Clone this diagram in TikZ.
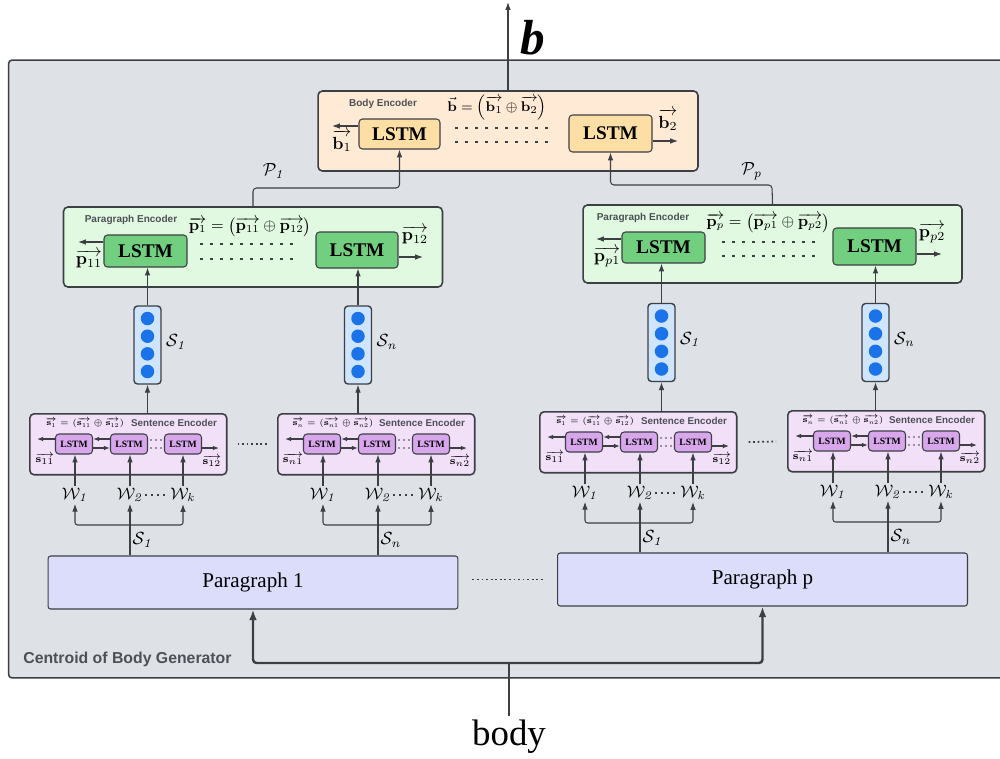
\RequirePackage{fix-cm}
\documentclass[tikz,border=0pt]{standalone}
\usepackage{amsmath,amssymb}
\usepackage[no-math]{fontspec}
\setmainfont{Liberation Serif}
\setsansfont{Liberation Sans}
\usetikzlibrary{arrows.meta}

\definecolor{bgcol}{HTML}{DEE1E6}
\definecolor{edgecol}{HTML}{3C4045}
\definecolor{titlecol}{HTML}{4D5157}
\definecolor{bodyfill}{HTML}{FFEAD6}
\definecolor{bodylstm}{HTML}{FDDFA5}
\definecolor{parafill}{HTML}{E1F8E1}
\definecolor{paralstm}{HTML}{72CF7F}
\definecolor{sentfill}{HTML}{F1E0F8}
\definecolor{sentlstm}{HTML}{D7A6EB}
\definecolor{vecfill}{HTML}{CEE5FD}
\definecolor{vecdot}{HTML}{1A73E8}
\definecolor{docfill}{HTML}{DCDDFB}

\tikzset{
    outerbox/.style={draw=edgecol,line width=0.9pt,fill=bgcol,rounded corners=2pt,inner sep=0pt},
    encbox/.style={draw=edgecol,line width=0.9pt,rounded corners=2.5pt,inner sep=0pt},
    lstmbox/.style={draw=edgecol,line width=0.6pt,rounded corners=2pt,inner sep=0pt,font=\fontsize{11}{12}\selectfont\bfseries},
    slstmbox/.style={lstmbox,fill=sentlstm,minimum width=0.74cm,minimum height=0.4cm,font=\fontsize{5.5}{6}\selectfont\bfseries},
    vecbox/.style={draw=edgecol,line width=0.8pt,fill=vecfill,rounded corners=2pt,minimum width=0.54cm,minimum height=1.56cm,inner sep=0pt},
    docbox/.style={draw=edgecol,line width=0.6pt,fill=docfill,rounded corners=1.5pt,minimum width=8.2cm,minimum height=1.06cm,font=\fontsize{12}{14}\selectfont},
    title/.style={font=\sffamily\bfseries\fontsize{5.7}{6}\selectfont,text=titlecol,inner sep=0pt},
    form/.style={inner sep=0pt},
    vlab/.style={font=\fontsize{10}{11}\selectfont,inner sep=0pt},
    svlab/.style={font=\fontsize{6}{7}\selectfont,inner sep=0pt},
    wlab/.style={font=\fontsize{9.5}{10}\selectfont,inner sep=1pt},
    slab/.style={font=\fontsize{10}{11}\selectfont,inner sep=0pt},
    arr/.style={draw=edgecol,line width=0.6pt,-{Latex[length=4.5pt,width=3.2pt]}},
    sarr/.style={draw=edgecol,line width=0.6pt,-{Latex[length=3.5pt,width=2.6pt]}},
    twoarr/.style={draw=edgecol,line width=0.6pt,{Latex[length=4.5pt,width=3.2pt]}-{Latex[length=4.5pt,width=3.2pt]}},
    bigarr/.style={draw=edgecol,line width=1.4pt,-{Latex[length=6pt,width=4.4pt]}},
    dotrow/.style={draw=edgecol,line width=0.8pt,dash pattern=on 1.5pt off 4.2pt},
    gapdots/.style={draw=edgecol,line width=1pt,dash pattern=on 1pt off 1.6pt},
    wdots/.style={draw=edgecol,line width=0.9pt,dash pattern=on 0.8pt off 2.6pt}
}

\begin{document}
\begin{tikzpicture}[x=0.02cm,y=-0.02cm]
\useasboundingbox (0,0) rectangle (1000,758);

% frame of the generator
\node[outerbox,minimum width=19.9cm,minimum height=12.36cm] (cbg) at (506,369) {};
\node[title,font=\sffamily\bfseries\fontsize{9}{10}\selectfont,anchor=west] (cbgtitle) at (23,659) {Centroid of Body Generator};

% body encoder
\node[encbox,fill=bodyfill,minimum width=7.6cm,minimum height=1.6cm] (be) at (508,131) {};
\node[title] (betitle) at (383,104) {Body Encoder};
\node[lstmbox,fill=bodylstm,minimum width=1.62cm,minimum height=0.6cm] (ba) at (399.5,134) {LSTM};
\node[lstmbox,fill=bodylstm,minimum width=1.66cm,minimum height=0.74cm] (bb) at (610.5,133.5) {LSTM};
\node[form,font=\fontsize{8}{9}\selectfont] (beform) at (497,108) {$\vec{\mathbf{b}} = \left(\overrightarrow{\mathbf{b}_1} \oplus \overrightarrow{\mathbf{b}_2}\right)$};
\draw[dotrow] (455,128) -- (552,128);
\draw[dotrow] (455,142) -- (552,142);
\coordinate (b1end) at (332,126);
\coordinate (b2end) at (678,141);
\draw[arr] (ba.west |- b1end) -- (b1end);
\draw[arr] (bb.east |- b2end) -- (b2end);
\node[vlab] (b1lab) at (342,141) {$\overrightarrow{\mathbf{b}_1}$};
\node[vlab] (b2lab) at (668,120) {$\overrightarrow{\mathbf{b}_2}$};
\coordinate (bout) at (508,2);
\draw[arr] (be.north) -- (bout);
\node[font=\fontsize{28}{30}\selectfont\bfseries\itshape,inner sep=0pt] (blab) at (533,38) {b};

% paragraph encoders
\node[encbox,fill=parafill,minimum width=7.58cm,minimum height=1.6cm] (pl) at (253,247) {};
\node[title] (pltitle) at (131,220) {Paragraph Encoder};
\node[lstmbox,fill=paralstm,minimum width=1.66cm,minimum height=0.64cm] (pla) at (145.5,251) {LSTM};
\node[lstmbox,fill=paralstm,minimum width=1.64cm,minimum height=0.72cm] (plb) at (357,250) {LSTM};
\node[form,font=\fontsize{9}{10}\selectfont] (plform) at (250,227) {$\overrightarrow{\mathbf{p}_1} = \left(\overrightarrow{\mathbf{p}_{11}} \oplus \overrightarrow{\mathbf{p}_{12}}\right)$};
\draw[dotrow] (200,244) -- (298,244);
\draw[dotrow] (200,259) -- (298,259);
\coordinate (p11end) at (78,242);
\coordinate (p12end) at (423,257);
\draw[arr] (pla.west |- p11end) -- (p11end);
\draw[arr] (plb.east |- p12end) -- (p12end);
\node[vlab] (p11lab) at (89,259) {$\overrightarrow{\mathbf{p}_{11}}$};
\node[vlab] (p12lab) at (415,235) {$\overrightarrow{\mathbf{p}_{12}}$};

\node[encbox,fill=parafill,minimum width=7.58cm,minimum height=1.56cm] (pr) at (772.5,244) {};
\node[title] (prtitle) at (643,218) {Paragraph Encoder};
\node[lstmbox,fill=paralstm,minimum width=1.66cm,minimum height=0.62cm] (pra) at (663.5,247.5) {LSTM};
\node[lstmbox,fill=paralstm,minimum width=1.66cm,minimum height=0.74cm] (prb) at (874.5,246.5) {LSTM};
\node[form,font=\fontsize{9}{10}\selectfont] (prform) at (768,223) {$\overrightarrow{\mathbf{p}_p} = \left(\overrightarrow{\mathbf{p}_{p1}} \oplus \overrightarrow{\mathbf{p}_{p2}}\right)$};
\draw[dotrow] (722,242) -- (818,242);
\draw[dotrow] (722,256) -- (818,256);
\coordinate (pp1end) at (596,239);
\coordinate (pp2end) at (942,254);
\draw[arr] (pra.west |- pp1end) -- (pp1end);
\draw[arr] (prb.east |- pp2end) -- (pp2end);
\node[vlab] (pp1lab) at (607,257) {$\overrightarrow{\mathbf{p}_{p1}}$};
\node[vlab] (pp2lab) at (932,233) {$\overrightarrow{\mathbf{p}_{p2}}$};

% paragraphs to body encoder
\coordinate (plj) at (253,188);
\coordinate (prj) at (772,185);
\draw[arr,rounded corners=2pt] (pl.north) -- (plj) -| (ba.south);
\draw[arr,rounded corners=2pt] (pr.north) -- (prj) -| (bb.south);
\node[slab] (plab1) at (274,171) {$\mathcal{P}_{\mathit{1}}$};
\node[slab] (plabp) at (752,171) {$\mathcal{P}_{\mathit{p}}$};

% paragraphs
\node[docbox] (pg1) at (253,582.5) {Paragraph 1};
\node[docbox] (pgp) at (762.5,579.5) {Paragraph p};
\draw[gapdots,shorten <=0.28cm,shorten >=0.26cm] (pgp.west -| pg1.east) -- (pgp.west);

% sentence encoders
\foreach \n/\lx/\ty/\sid/\pg in {1/29/413/1/pg1, 2/277/413/n/pg1, 3/539/411/1/pgp, 4/787/410/n/pgp}{
    \node[encbox,fill=sentfill,minimum width=3.94cm,minimum height=1.22cm,anchor=north west] (se\n) at (\lx,\ty) {};
    \node[title,font=\sffamily\bfseries\fontsize{5.6}{6}\selectfont] (se\n t) at (\lx+145,\ty+10) {Sentence Encoder};
    \node[form,font=\fontsize{4.8}{6}\selectfont] (se\n f) at (\lx+56,\ty+10) {$\overrightarrow{\mathbf{s}_{\sid}} = (\overrightarrow{\mathbf{s}_{\sid 1}} \oplus \overrightarrow{\mathbf{s}_{\sid 2}})$};
    \node[slstmbox] (se\n a) at (\lx+45,\ty+31) {LSTM};
    \node[slstmbox] (se\n b) at (\lx+100,\ty+31) {LSTM};
    \node[slstmbox] (se\n c) at (\lx+154,\ty+31) {LSTM};
    \coordinate (se\n l) at (\lx+8,\ty+26);
    \coordinate (se\n r) at (\lx+190,\ty+35);
    \draw[sarr] (se\n a.west |- se\n l) -- (se\n l);
    \draw[sarr] (se\n b.west |- se\n l) -- (se\n a.east |- se\n l);
    \draw[sarr] (se\n a.east |- se\n r) -- (se\n b.west |- se\n r);
    \draw[sarr] (se\n c.east |- se\n r) -- (se\n r);
    \foreach \dx in {122,127,132}{
        \fill[edgecol] (\lx+\dx,\ty+27) circle (0.45pt);
        \fill[edgecol] (\lx+\dx,\ty+35) circle (0.45pt);
    }
    \node[svlab] (se\n sl) at (\lx+16,\ty+46) {$\overrightarrow{\mathbf{s}_{\sid 1}}$};
    \node[svlab] (se\n sr) at (\lx+183,\ty+48) {$\overrightarrow{\mathbf{s}_{\sid 2}}$};
    % words
    \node[wlab] (se\n wa) at (\lx+46,\ty+82) {$\mathcal{W}_{\mathit{1}}$};
    \node[wlab] (se\n wb) at (\lx+101,\ty+82) {$\mathcal{W}_{\mathit{2}}$};
    \node[wlab] (se\n wc) at (\lx+154,\ty+82) {$\mathcal{W}_{\mathit{k}}$};
    \draw[arr] (se\n wa.north) -- (se\n wa.north |- se\n a.south);
    \draw[arr] (se\n wb.north) -- (se\n wb.north |- se\n b.south);
    \draw[arr] (se\n wc.north) -- (se\n wc.north |- se\n c.south);
    \draw[wdots] (se\n wb.east) -- (se\n wc.west);
    \coordinate (se\n j) at (\lx+101,\ty+112);
    \draw[twoarr,rounded corners=1.5pt] (se\n wa.south) |- (se\n j) -| (se\n wc.south);
    \draw[arr] (\pg.north -| se\n wb) -- (se\n wb.south);
    \node[slab] (se\n s) at (\lx+114,\ty+127) {$\mathcal{S}_{\mathit{\sid}}$};
}
\draw[gapdots,shorten <=0.2cm,shorten >=0.2cm] (se1.east) -- (se2.west);
\draw[gapdots,shorten <=0.22cm,shorten >=0.22cm] (se3.east) -- (se4.west);

% sentence vectors
\foreach \n/\cx/\cy/\sid in {1/147.5/345/1, 2/358/345/n, 3/661.5/342.5/1, 4/875.5/342.5/n}{
    \node[vecbox] (col\n) at (\cx,\cy) {};
    \foreach \dy in {-26.5,-8.8,8.8,26.5}
        \fill[vecdot] (\cx,\cy+\dy) circle (0.135cm);
    \node[slab] (col\n lab) at (\cx+29,\cy-3) {$\mathcal{S}_{\mathit{\sid}}$};
    \draw[arr] (col\n.south |- se\n.north) -- (col\n.south);
}
\foreach \n/\t in {1/pla,2/plb,3/pra,4/prb}
    \draw[arr] (col\n.north) -- (col\n.north |- \t.south);

% body input
\node[font=\fontsize{21}{24}\selectfont,inner sep=2pt] (bodytxt) at (509,737) {body};
\coordinate (bodyj) at (509,663);
\draw[edgecol,line width=1.4pt] (bodytxt.north) -- (bodyj);
\draw[bigarr,rounded corners=2pt] (bodyj) -| (pg1.south);
\draw[bigarr,rounded corners=2pt] (bodyj) -| (pgp.south);
\end{tikzpicture}
\end{document}
